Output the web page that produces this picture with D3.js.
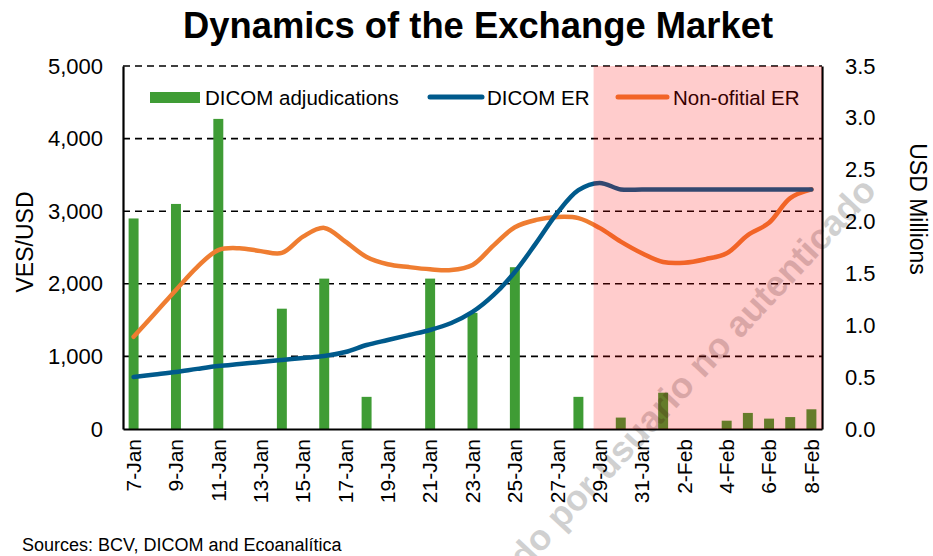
<!DOCTYPE html>
<html>
<head>
<meta charset="utf-8">
<script src="https://cdnjs.cloudflare.com/ajax/libs/d3/7.8.5/d3.min.js"></script>
<style>
  body { margin: 0; background: #fff; }
  text { font-family: "Liberation Sans", Arial, sans-serif; fill: #000; }
</style>
</head>
<body>
<script>
// days on the x axis
var days = ["7-Jan","8-Jan","9-Jan","10-Jan","11-Jan","12-Jan","13-Jan","14-Jan","15-Jan","16-Jan",
            "17-Jan","18-Jan","19-Jan","20-Jan","21-Jan","22-Jan","23-Jan","24-Jan","25-Jan","26-Jan",
            "27-Jan","28-Jan","29-Jan","30-Jan","31-Jan","1-Feb","2-Feb","3-Feb","4-Feb","5-Feb",
            "6-Feb","7-Feb","8-Feb"];

// DICOM adjudications, USD millions (right axis), null = no auction
var adjudications = [2.03, null, 2.17, null, 2.99, null, null, 1.16, null, 1.45,
                     null, 0.31, null, null, 1.45, null, 1.12, null, 1.56, null,
                     null, 0.31, null, 0.11, null, 0.35, null, null, 0.08, 0.155,
                     0.10, 0.115, 0.19];

// DICOM exchange rate, VES/USD (left axis)
var dicomER = [716, 750, 785, 828, 868, 895, 922, 950, 978, 1005,
               1060, 1157, 1226, 1295, 1364, 1460, 1612, 1846, 2163, 2560,
               2975, 3290, 3390, 3300, 3300, 3300, 3300, 3300, 3300, 3300,
               3300, 3300, 3300];

// non official exchange rate, VES/USD (left axis)
var nonOficialER = [1270, 1590, 1915, 2230, 2465, 2490, 2450, 2425, 2650, 2770,
                    2580, 2370, 2270, 2230, 2200, 2190, 2260, 2530, 2780, 2880,
                    2920, 2905, 2770, 2580, 2420, 2300, 2290, 2340, 2420, 2670,
                    2840, 3180, 3300];

var leftTicks = [0, 1000, 2000, 3000, 4000, 5000];
var rightTicks = [0, 0.5, 1, 1.5, 2, 2.5, 3, 3.5];
var shadeFrom = "29-Jan";

var width = 933, height = 556,
    margin = {top: 66, right: 111, bottom: 127, left: 123},
    w = width - margin.left - margin.right,
    h = height - margin.top - margin.bottom;

var green = "#3f9c35", blue = "#005a8c", orange = "#ef7d31";

var svg = d3.select("body").append("svg")
    .attr("width", width)
    .attr("height", height);

var g = svg.append("g")
    .attr("transform", "translate(" + margin.left + "," + margin.top + ")");

var x = d3.scaleBand().domain(days).range([0, w]).paddingInner(0.53).paddingOuter(0.265);
var yL = d3.scaleLinear().domain([0, 5000]).range([h, 0]);
var yR = d3.scaleLinear().domain([0, 3.5]).range([h, 0]);
function xc(d) { return x(d) + x.bandwidth() / 2; }

// dashed gridlines
g.selectAll(".grid")
    .data(leftTicks.filter(function(d) { return d > 0; }))
  .enter().append("line")
    .attr("x1", 0).attr("x2", w)
    .attr("y1", function(d) { return yL(d); })
    .attr("y2", function(d) { return yL(d); })
    .attr("stroke", "#000")
    .attr("stroke-width", 1.6)
    .attr("stroke-dasharray", "7,5");

// bars
g.selectAll(".bar")
    .data(days.map(function(d, i) { return {day: d, v: adjudications[i]}; })
              .filter(function(d) { return d.v !== null; }))
  .enter().append("rect")
    .attr("x", function(d) { return x(d.day); })
    .attr("width", x.bandwidth())
    .attr("y", function(d) { return yR(d.v); })
    .attr("height", function(d) { return h - yR(d.v); })
    .attr("fill", green);

var line = d3.line()
    .x(function(d) { return xc(d.day); })
    .y(function(d) { return yL(d.v); })
    .curve(d3.curveCatmullRom);

g.append("path")
    .datum(days.map(function(d, i) { return {day: d, v: nonOficialER[i]}; }))
    .attr("d", line)
    .attr("fill", "none")
    .attr("stroke", orange)
    .attr("stroke-width", 4.5)
    .attr("stroke-linecap", "round");

g.append("path")
    .datum(days.map(function(d, i) { return {day: d, v: dicomER[i]}; }))
    .attr("d", line)
    .attr("fill", "none")
    .attr("stroke", blue)
    .attr("stroke-width", 4.5)
    .attr("stroke-linecap", "round");

// watermark, faint, under the axes and texts
svg.append("text")
    .attr("transform", "translate(878,192) rotate(-47)")
    .attr("text-anchor", "end")
    .style("font-size", "36px")
    .style("font-weight", "bold")
    .style("fill", "#000")
    .attr("opacity", 0.18)
    .text("descargado por usuario no autenticado");

// axes
var yAxisL = d3.axisLeft(yL).tickValues(leftTicks).tickFormat(d3.format(",")).tickSize(0).tickPadding(20);
var yAxisR = d3.axisRight(yR).tickValues(rightTicks).tickFormat(d3.format(".1f")).tickSize(0).tickPadding(23);
var xAxis = d3.axisBottom(x).tickValues(days.filter(function(d, i) { return i % 2 === 0; })).tickSize(0);

var gl = g.append("g").call(yAxisL);
var gr = g.append("g").attr("transform", "translate(" + w + ",0)").call(yAxisR);
var gx = g.append("g").attr("transform", "translate(0," + h + ")").call(xAxis);

[gl, gr, gx].forEach(function(a) {
  a.select(".domain").attr("stroke", "#000").attr("stroke-width", 2.2);
  a.selectAll("text").style("font-family", "Liberation Sans, Arial, sans-serif").attr("fill", "#000");
});
gl.selectAll("text").style("font-size", "22px");
gr.selectAll("text").style("font-size", "22px");
gx.selectAll("text")
    .style("font-size", "21px")
    .attr("text-anchor", "end")
    .attr("transform", "rotate(-90)")
    .attr("x", -10)
    .attr("y", 0)
    .attr("dy", "0.35em");

// axis titles
svg.append("text")
    .attr("transform", "translate(33,242) rotate(-90)")
    .attr("text-anchor", "middle")
    .style("font-size", "23px")
    .text("VES/USD");

svg.append("text")
    .attr("transform", "translate(910,209) rotate(90)")
    .attr("text-anchor", "middle")
    .style("font-size", "23px")
    .text("USD Millions");

// title
svg.append("text")
    .attr("x", 183).attr("y", 38)
    .attr("textLength", 590)
    .attr("lengthAdjust", "spacingAndGlyphs")
    .style("font-size", "36px")
    .style("font-weight", "bold")
    .text("Dynamics of the Exchange Market");

// legend
var lg = svg.append("g");
lg.append("rect").attr("x", 150).attr("y", 92).attr("width", 50).attr("height", 11).attr("fill", green);
lg.append("text").attr("x", 205).attr("y", 105).style("font-size", "20.5px").text("DICOM adjudications");
lg.append("line").attr("x1", 430).attr("x2", 482).attr("y1", 97).attr("y2", 97)
    .attr("stroke", blue).attr("stroke-width", 5).attr("stroke-linecap", "round");
lg.append("text").attr("x", 487).attr("y", 105).style("font-size", "20.5px").text("DICOM ER");
lg.append("line").attr("x1", 618).attr("x2", 667).attr("y1", 97).attr("y2", 97)
    .attr("stroke", orange).attr("stroke-width", 5).attr("stroke-linecap", "round");
lg.append("text").attr("x", 673).attr("y", 105).style("font-size", "20.5px").text("Non-ofitial ER");

// shaded period on top of the plot
var sx = margin.left + xc(shadeFrom) - 6;
svg.append("rect")
    .attr("x", sx)
    .attr("y", margin.top)
    .attr("width", margin.left + w - sx)
    .attr("height", h)
    .attr("fill", "rgba(255,0,0,0.2)");

// sources
svg.append("text")
    .attr("x", 22).attr("y", 551)
    .style("font-size", "18px")
    .text("Sources: BCV, DICOM  and Ecoanalítica");
</script>
</body>
</html>
